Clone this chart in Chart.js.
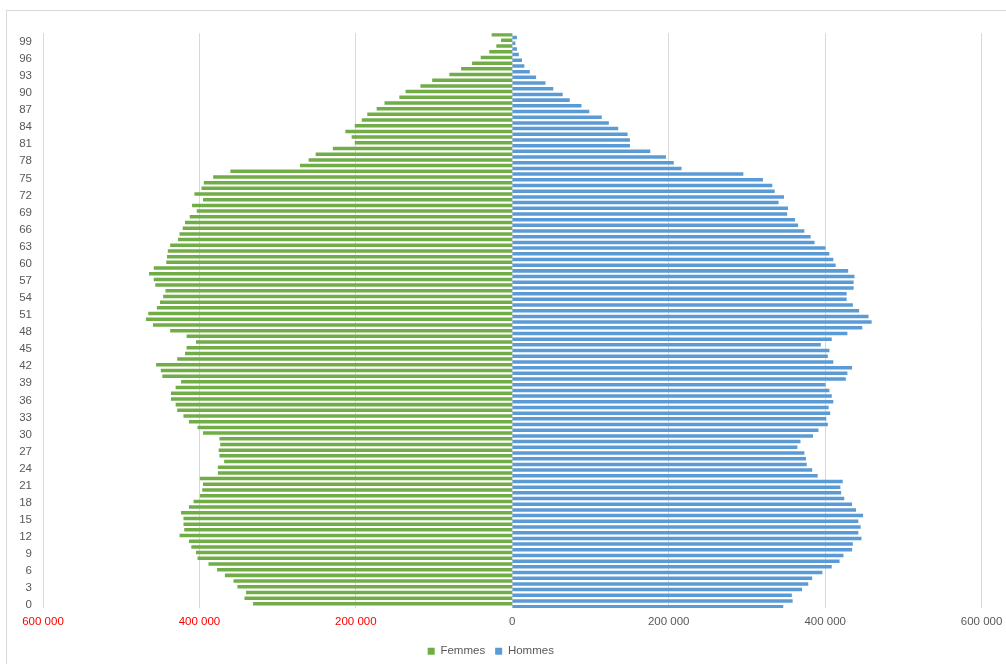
<!DOCTYPE html>
<html>
<head>
<meta charset="utf-8">
<script src="https://cdn.jsdelivr.net/npm/chart.js@4.4.1/dist/chart.umd.min.js"></script>
<style>
  html, body { margin: 0; padding: 0; background: #ffffff; }
  #wrap { position: relative; width: 1006px; height: 664px; overflow: hidden; }
  #frame { position: absolute; left: 6px; top: 10px; width: 1100px; height: 700px;
           border-left: 1px solid #d9d9d9; border-top: 1px solid #d9d9d9; }
  canvas { position: absolute; left: 0; top: 0; }
</style>
</head>
<body>
<div id="wrap">
  <div id="frame"></div>
  <canvas id="pyramid" width="1006" height="664"></canvas>
</div>
<script>
// Age groups, bottom (0) to top (100)
const ages = ['0','1','2','3','4','5','6','7','8','9','10','11','12','13','14','15','16','17','18','19',
  '20','21','22','23','24','25','26','27','28','29','30','31','32','33','34','35','36','37','38','39',
  '40','41','42','43','44','45','46','47','48','49','50','51','52','53','54','55','56','57','58','59',
  '60','61','62','63','64','65','66','67','68','69','70','71','72','73','74','75','76','77','78','79',
  '80','81','82','83','84','85','86','87','88','89','90','91','92','93','94','95','96','97','98','99','100'];

// Women by age (0..100)
const femmes = [
  331000, 342000, 340000, 351000, 356000, 367000, 377000, 388000, 402000, 404000,
  410000, 413000, 425000, 419000, 420000, 420000, 423000, 413000, 407000, 399000,
  396000, 395000, 399000, 376000, 376000, 368000, 374000, 375000, 373000, 374000,
  395000, 402000, 413000, 420000, 428000, 430000, 436000, 436000, 430000, 423000,
  447000, 449000, 455000, 428000, 418000, 416000, 404000, 416000, 437000, 459000,
  468000, 465000, 454000, 450000, 446000, 443000, 456000, 458000, 464000, 458000,
  442000, 441000, 440000, 437000, 427000, 425000, 421000, 418000, 412000, 403000,
  409000, 395000, 406000, 397000, 394000, 382000, 360000, 271000, 260000, 251000,
  229000, 201000, 205000, 213000, 201000, 192000, 185000, 173000, 163000, 144000,
  136000, 117000, 102000, 80000, 65000, 51000, 40000, 29000, 20000, 14000, 26000
];

// Men by age (0..100)
const hommes = [
  346000, 358000, 357000, 370000, 378000, 383000, 396000, 408000, 418000, 423000,
  434000, 435000, 446000, 442000, 445000, 442000, 448000, 439000, 434000, 424000,
  420000, 419000, 422000, 390000, 383000, 376000, 375000, 373000, 364000, 368000,
  384000, 391000, 403000, 401000, 406000, 404000, 410000, 408000, 405000, 400000,
  426000, 428000, 434000, 410000, 403000, 405000, 394000, 408000, 428000, 447000,
  459000, 455000, 443000, 435000, 427000, 427000, 436000, 436000, 437000, 429000,
  413000, 410000, 405000, 400000, 386000, 381000, 373000, 365000, 361000, 351000,
  352000, 340000, 347000, 335000, 332000, 320000, 295000, 216000, 206000, 196000,
  176000, 150000, 150000, 147000, 135000, 123000, 114000, 98000, 88000, 73000,
  64000, 52000, 42000, 30000, 22000, 15000, 12000, 8000, 5500, 3500, 5500
];

// Horizontal axis ticks
const xTicks = [-600000, -400000, -200000, 0, 200000, 400000, 600000];

const FONT = "'Liberation Sans', Arial, sans-serif";
const GREY = '#595959';

function spaced(v) {
  return Math.abs(v).toString().replace(/\B(?=(\d{3})+(?!\d))/g, ' ');
}

new Chart(document.getElementById('pyramid'), {
  type: 'bar',
  data: {
    labels: ages,
    datasets: [
      {
        label: 'Femmes',
        data: femmes.map(v => -v),
        backgroundColor: '#70AD47',
        borderWidth: 0,
        categoryPercentage: 1.0,
        barPercentage: 1.0
      },
      {
        label: 'Hommes',
        data: hommes,
        backgroundColor: '#5B9BD5',
        borderWidth: 0,
        categoryPercentage: 1.0,
        barPercentage: 1.0
      }
    ]
  },
  options: {
    indexAxis: 'y',
    responsive: false,
    animation: false,
    layout: { padding: { left: 0, top: 33.25, right: 24.4, bottom: -3 } },
    scales: {
      x: {
        type: 'linear',
        min: xTicks[0],
        max: xTicks[xTicks.length - 1],
        afterBuildTicks: (scale) => { scale.ticks = xTicks.map(v => ({ value: v })); },
        afterFit: (scale) => { scale.height = 27.4; },
        grid: { color: '#d9d9d9', lineWidth: 1, drawTicks: true, tickLength: 4, tickColor: 'rgba(0,0,0,0)' },
        border: { display: false },
        ticks: {
          padding: 3,
          font: { family: FONT, size: 11.5 },
          color: (ctx) => (ctx.tick && ctx.tick.value < 0) ? '#FF0000' : GREY,
          callback: (v) => spaced(v)
        }
      },
      y: {
        type: 'category',
        reverse: true,
        afterFit: (scale) => { scale.width = 43; },
        grid: { display: false, drawTicks: false },
        border: { display: false },
        ticks: {
          autoSkip: false,
          padding: 11,
          font: { family: FONT, size: 11.5 },
          color: GREY,
          callback: function (v, i) { return i % 3 === 0 ? this.getLabelForValue(v) : ''; }
        }
      }
    },
    plugins: {
      tooltip: { enabled: false },
      legend: {
        position: 'bottom',
        labels: {
          boxWidth: 7,
          boxHeight: 7,
          padding: 10,
          color: GREY,
          font: { family: FONT, size: 11.5 }
        }
      }
    }
  }
});
</script>
</body>
</html>
